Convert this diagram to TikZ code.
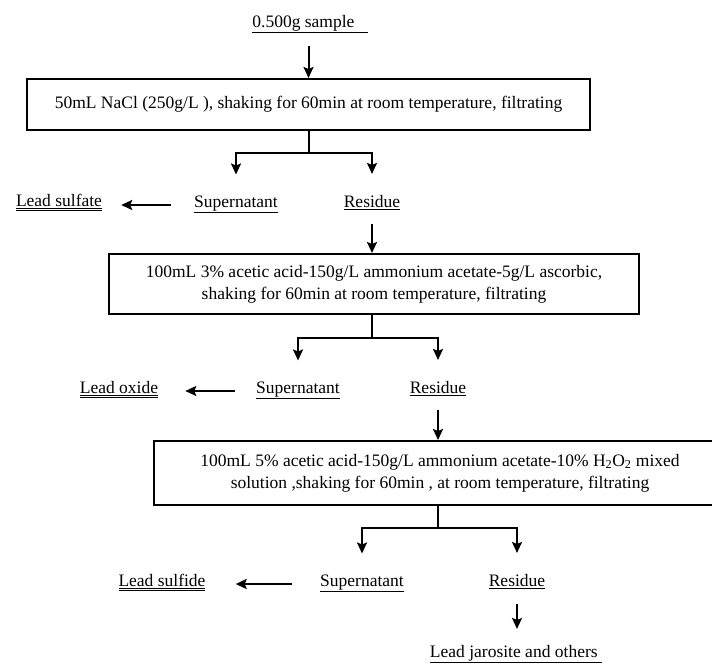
\documentclass[tikz,border=0pt]{standalone}
\usepackage{fontspec}
\setmainfont{Liberation Serif}
\usepackage{tikz}
\usetikzlibrary{arrows.meta}
\usetikzlibrary{positioning}
\newcommand{\dblul}[1]{\underline{\underline{#1}}}
\tikzset{>={Stealth[length=11pt,width=10pt,inset=2pt]},
  box/.style={draw, line width=2pt, align=center, inner sep=0pt},
  lbl/.style={inner sep=1pt, anchor=mid},
  flow/.style={line width=2pt}}

\begin{document}
\begin{tikzpicture}[x=1pt,y=-1pt,font=\fontsize{17.5}{22}\selectfont]

  \useasboundingbox (0,0) rectangle (712,664);
  \clip (0,0) rectangle (712,664);

  % sample and first step
  \node [lbl] (smp) at (310,25) {\underline{0.500g sample\ \ \ }};
  \node [box, minimum width=563, minimum height=51] (nacl) at (308.5,104.5)
    {50mL NaCl (250g/L ), shaking for 60min at room temperature, filtrating};

  \node [lbl] (sup1) at (236,205) {\underline{Supernatant}};
  \node [lbl] (res1) at (372,205) {\underline{Residue}};
  \node [lbl] (sulfate) at (59,204) {\dblul{Lead sulfate}};

  % second step
  \node [box, minimum width=530, minimum height=60] (acid1) at (374,284)
    {100mL 3\% acetic acid-150g/L ammonium acetate-5g/L ascorbic,\\
     shaking for 60min at room temperature, filtrating};

  \node [lbl] (sup2) at (298,391) {\underline{Supernatant}};
  \node [lbl] (res2) at (438,391) {\underline{Residue}};
  \node [lbl] (oxide) at (119,391) {\dblul{Lead oxide}};

  % third step
  \node [box, minimum width=572, minimum height=64] (acid2) at (440,473)
    {100mL 5\% acetic acid-150g/L ammonium acetate-10\% H\textsubscript{2}O\textsubscript{2} mixed\\
     solution ,shaking for 60min , at room temperature, filtrating};

  \node [lbl] (sup3) at (362,584) {\underline{Supernatant}};
  \node [lbl] (res3) at (517,584) {\underline{Residue}};
  \node [lbl] (sulfide) at (162,584) {\dblul{Lead sulfide}};
  \node [lbl] (jaro) at (516,655) {\underline{Lead jarosite and others\ }};

  % arrows
  \draw [flow,->] ([yshift=-12pt]smp.south -| nacl.north) -- (nacl.north);

  \draw [flow] (nacl.south) -- ++(0,22) coordinate (split1);
  \draw [flow,->] (split1) -| ([yshift=20pt]sup1.north);
  \draw [flow,->] (split1) -| ([yshift=20pt]res1.north);
  \draw [flow,->] ([xshift=-22pt]sup1.mid west) -- ([xshift=18pt]sulfate.mid east |- sup1.mid west);
  \draw [flow,->] ([yshift=-13pt]res1.south) -- (res1 |- acid1.north);

  \draw [flow] (acid1.south -| res1) -- ++(0,23) coordinate (split2);
  \draw [flow,->] (split2) -| ([yshift=20pt]sup2.north);
  \draw [flow,->] (split2) -| ([yshift=20pt]res2.north);
  \draw [flow,->] ([xshift=-20pt]sup2.mid west) -- ([xshift=26pt]oxide.mid east);
  \draw [flow,->] ([yshift=-13pt]res2.south) -- (res2 |- acid2.north);

  \draw [flow] (acid2.south -| res2) -- ++(0,22) coordinate (split3);
  \draw [flow,->] (split3) -| ([yshift=20pt]sup3.north);
  \draw [flow,->] (split3) -| ([yshift=20pt]res3.north);
  \draw [flow,->] ([xshift=-27pt]sup3.mid west) -- ([xshift=29pt]sulfide.mid east);
  \draw [flow,->] ([yshift=-14pt]res3.south) -- ([yshift=15pt]res3 |- jaro.north);

\end{tikzpicture}
\end{document}
